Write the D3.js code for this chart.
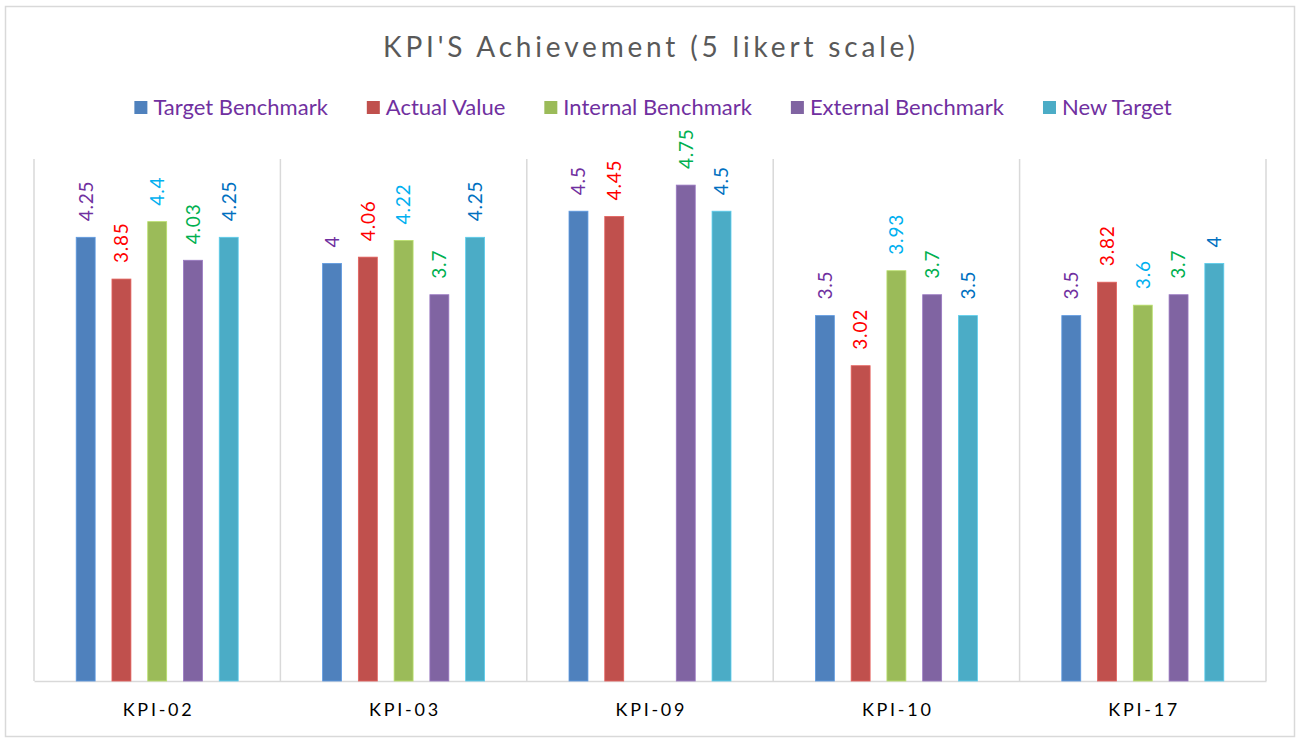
<!DOCTYPE html>
<html>
<head>
    <title>KPI'S Achievement</title>
    <script src="https://d3js.org/d3.v7.min.js"></script>
    <style>
        body { margin: 0; background: #fff; }
        text { font-family: Lato, "Open Sans", sans-serif; }
    </style>
</head>
<body>
<div id="chart"></div>
<script>
    // data
    var categories = ["KPI-02", "KPI-03", "KPI-09", "KPI-10", "KPI-17"];
    var seriesNames = ["Target Benchmark", "Actual Value", "Internal Benchmark", "External Benchmark", "New Target"];
    var targetBenchmark = [4.25, 4, 4.5, 3.5, 3.5];
    var actualValue = [3.85, 4.06, 4.45, 3.02, 3.82];
    var internalBenchmark = [4.4, 4.22, null, 3.93, 3.6];
    var externalBenchmark = [4.03, 3.7, 4.75, 3.7, 3.7];
    var newTarget = [4.25, 4.25, 4.5, 3.5, 4];

    var seriesValues = [targetBenchmark, actualValue, internalBenchmark, externalBenchmark, newTarget];
    var barColors = ["#4F81BD", "#C0504D", "#9BBB59", "#8064A2", "#4BACC6"];
    var labelColors = ["#7030A0", "#FF0000", "#00B0F0", "#00B050", "#0070C0"];

    var W = 1298, H = 738;
    var plot = {left: 34, right: 1266, top: 159, bottom: 681};

    var svg = d3.select("#chart").append("svg")
        .attr("width", W)
        .attr("height", H);

    // chart frame
    svg.append("rect")
        .attr("x", 5.5).attr("y", 6.5)
        .attr("width", 1289).attr("height", 730)
        .attr("fill", "#fff")
        .attr("stroke", "#d9d9d9")
        .attr("stroke-width", 1.5);

    // title
    svg.append("text")
        .attr("x", 383).attr("y", 57)
        .attr("textLength", 532)
        .attr("lengthAdjust", "spacing")
        .style("font-size", "28px")
        .style("fill", "#595959")
        .text("KPI'S Achievement (5 likert scale)");

    // scales
    var x0 = d3.scaleBand()
        .domain(categories)
        .range([plot.left, plot.right]);

    var inset = (x0.bandwidth() - 162) / 2;
    var x1 = d3.scaleBand()
        .domain(seriesNames)
        .range([inset, inset + 162])
        .paddingInner(0.47);

    var y = d3.scaleLinear()
        .domain([0, 5])
        .range([plot.bottom, plot.top]);

    // category separators
    var bounds = categories.map(function(c) { return x0(c); }).concat([plot.right]);
    svg.append("g").selectAll("line")
        .data(bounds)
        .enter().append("line")
        .attr("x1", function(d) { return d; })
        .attr("x2", function(d) { return d; })
        .attr("y1", plot.top)
        .attr("y2", plot.bottom)
        .attr("stroke", "#d9d9d9")
        .attr("stroke-width", 1.5);

    // x axis
    var xAxis = svg.append("g")
        .attr("transform", "translate(0," + plot.bottom + ")")
        .call(d3.axisBottom(x0).tickSize(0).tickPadding(0));
    xAxis.select(".domain")
        .attr("stroke", "#d9d9d9")
        .attr("stroke-width", 1.5);
    xAxis.selectAll(".tick text")
        .attr("y", 35)
        .attr("dy", 0)
        .attr("textLength", 69)
        .attr("lengthAdjust", "spacing")
        .style("font-size", "18px")
        .style("fill", "#000")
        .style("font-family", "Lato, sans-serif");

    // flat table for bars
    var table = [];
    categories.forEach(function(c, i) {
        seriesNames.forEach(function(s, j) {
            if (seriesValues[j][i] !== null) {
                table.push({cat: c, series: s, idx: j, value: seriesValues[j][i]});
            }
        });
    });

    var groups = svg.append("g");

    groups.selectAll("rect")
        .data(table)
        .enter().append("rect")
        .attr("x", function(d) { return x0(d.cat) + x1(d.series); })
        .attr("y", function(d) { return y(d.value); })
        .attr("width", x1.bandwidth())
        .attr("height", function(d) { return y(0) - y(d.value); })
        .attr("fill", function(d) { return barColors[d.idx]; })
        .attr("stroke", function(d) { return d3.color(barColors[d.idx]).brighter(0.5); })
        .attr("stroke-width", 0.8);

    // rotated data labels
    groups.selectAll("text")
        .data(table)
        .enter().append("text")
        .attr("transform", function(d) {
            var cx = x0(d.cat) + x1(d.series) + x1.bandwidth() / 2;
            return "translate(" + cx + "," + (y(d.value) - 16) + ") rotate(-90)";
        })
        .attr("dy", "0.36em")
        .style("font-size", "19px")
        .style("letter-spacing", "0.8px")
        .style("fill", function(d) { return labelColors[d.idx]; })
        .text(function(d) { return d.value; });

    // legend
    var legend = svg.append("g");
    var items = legend.selectAll("g")
        .data(seriesNames)
        .enter().append("g");
    items.append("rect")
        .attr("y", 101)
        .attr("width", 13)
        .attr("height", 13)
        .attr("fill", function(d, i) { return barColors[i]; });
    items.append("text")
        .attr("x", 19)
        .attr("y", 115)
        .style("font-size", "22px")
        .style("fill", "#7030A0")
        .text(function(d) { return d; });

    var widths = [];
    items.select("text").each(function() { widths.push(this.getComputedTextLength()); });
    var gap = 39;
    var total = d3.sum(widths) + widths.length * 19 + (widths.length - 1) * gap;
    var pos = 653 - total / 2;
    items.attr("transform", function(d, i) {
        var p = pos;
        pos += 19 + widths[i] + gap;
        return "translate(" + p + ",0)";
    });
</script>
</body>
</html>
